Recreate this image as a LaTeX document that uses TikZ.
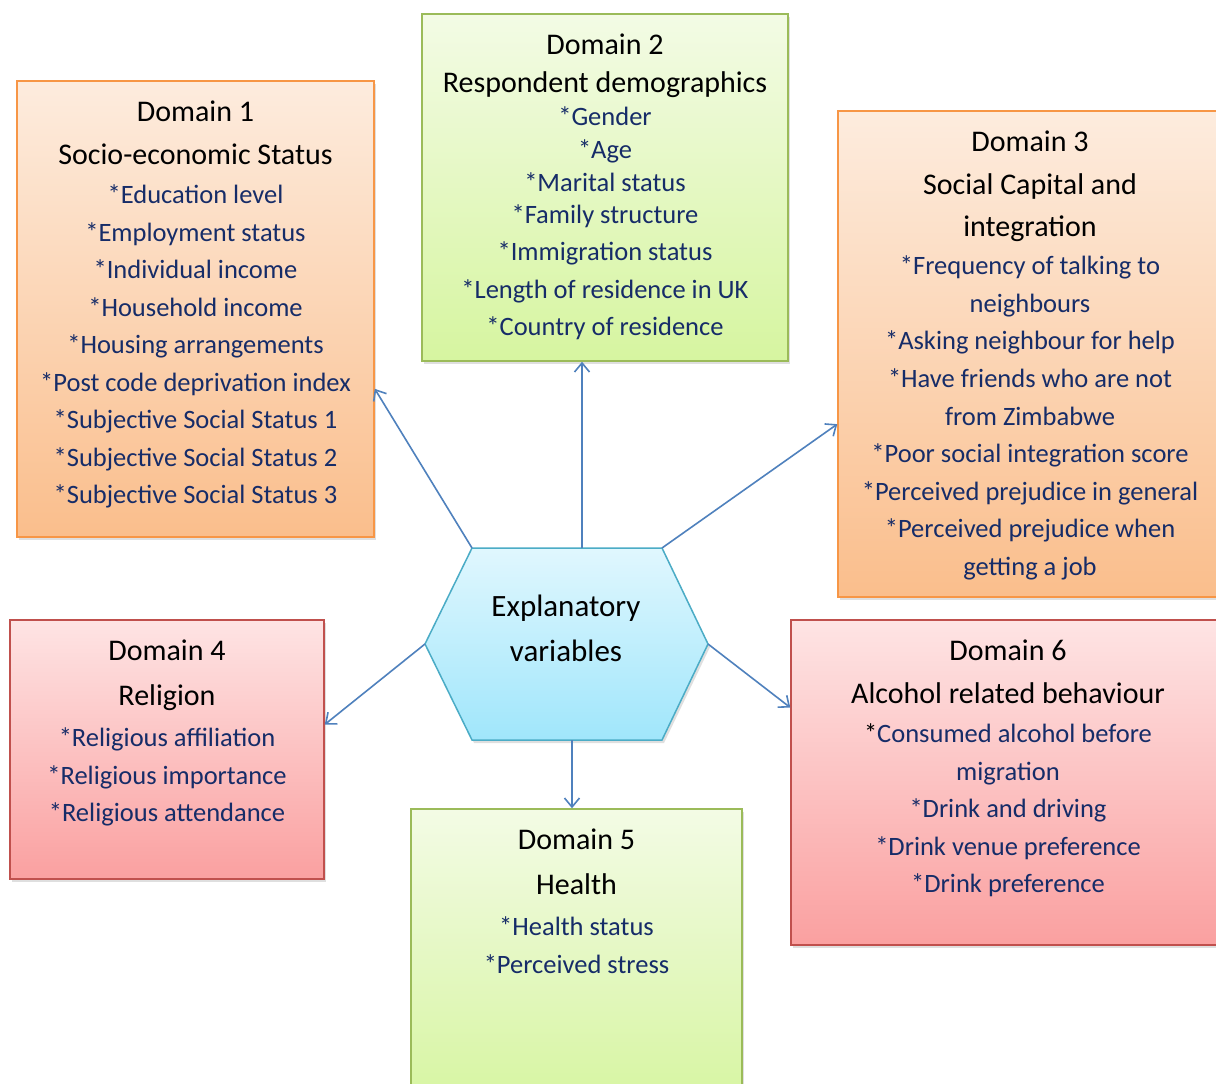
\documentclass[tikz,border=0pt]{standalone}
\usepackage{fontspec}
\setmainfont{Carlito}
\usetikzlibrary{arrows.meta,shadows}

\definecolor{itemblue}{RGB}{22,44,104}
\definecolor{arrowblue}{RGB}{79,129,189}
\definecolor{orangeline}{RGB}{247,150,70}
\definecolor{orangetop}{RGB}{253,236,222}
\definecolor{orangebot}{RGB}{250,190,140}
\definecolor{greenline}{RGB}{155,187,89}
\definecolor{greentop}{RGB}{243,251,229}
\definecolor{greenbot}{RGB}{214,245,160}
\definecolor{redline}{RGB}{192,80,77}
\definecolor{redtop}{RGB}{254,228,228}
\definecolor{redbot}{RGB}{250,160,160}
\definecolor{hexline}{RGB}{75,172,198}
\definecolor{hextop}{RGB}{224,247,254}
\definecolor{hexbot}{RGB}{160,230,251}

\tikzset{
  dombox/.style={draw, line width=1.5pt, inner sep=0pt,
    drop shadow={shadow xshift=2pt, shadow yshift=-3pt, opacity=.25}},
  obox/.style={dombox, draw=orangeline, top color=orangetop, bottom color=orangebot},
  gbox/.style={dombox, draw=greenline, top color=greentop, bottom color=greenbot},
  rbox/.style={dombox, draw=redline, top color=redtop, bottom color=redbot},
  ttl/.style={anchor=north, inner sep=0pt, align=center, font=\fontsize{30}{43}\selectfont},
  itm/.style={anchor=north, inner sep=0pt, align=center, text=itemblue, font=\fontsize{26.5}{37.5}\selectfont},
  arr/.style={draw=arrowblue, line width=1.6pt, -{Straight Barb[length=9pt,width=15pt]}},
}

\begin{document}
\begin{tikzpicture}[x=1pt,y=-1pt]
  \clip (0,0) rectangle (1216,1084);
  \fill[white] (0,0) rectangle (1216,1084);

  % domain boxes
  \node[obox, minimum width=357pt, minimum height=456pt] (d1) at (195.5,309) {};
  \node[gbox, minimum width=366pt, minimum height=347pt] (d2) at (605,187.5) {};
  \node[obox, minimum width=384pt, minimum height=486pt] (d3) at (1030,354) {};
  \node[rbox, minimum width=314pt, minimum height=259pt] (d4) at (167,749.5) {};
  \node[gbox, minimum width=331pt, minimum height=300pt] (d5) at (576.5,959) {};
  \node[rbox, minimum width=434pt, minimum height=325pt] (d6) at (1008,782.5) {};

  % hexagon
  \coordinate (hL) at (425,644);
  \coordinate (hTL) at (472,548);
  \coordinate (hTR) at (662,548);
  \coordinate (hR) at (708,644);
  \coordinate (hBR) at (662,740);
  \coordinate (hBL) at (472,740);
  \coordinate (hT) at (582,548);
  \coordinate (hB) at (572,740);
  \draw[draw=hexline, line width=1.5pt, top color=hextop, bottom color=hexbot,
    drop shadow={shadow xshift=2pt, shadow yshift=-3pt, opacity=.25}]
    (hL) -- (hTL) -- (hTR) -- (hR) -- (hBR) -- (hBL) -- cycle;
  \node[ttl, font=\fontsize{31}{45}\selectfont] (expl) at (566,584.5)
    {\strut Explanatory\\variables};

  % texts
  \node[ttl] (d1t) at (195.5,91.6) {\strut Domain 1\\Socio-economic Status};
  \node[itm] (d1i) at (195.5,177.25) {\strut *Education level\\*Employment status\\
    *Individual income\\*Household income\\*Housing arrangements\\
    *Post code deprivation index\\*Subjective Social Status 1\\
    *Subjective Social Status 2\\*Subjective Social Status 3};

  \node[ttl, font=\fontsize{30}{38}\selectfont] (d2t) at (605,28.1)
    {\strut Domain 2\\Respondent demographics};
  \node[itm, font=\fontsize{26.5}{32.7}\selectfont] (d2i) at (605,102.6)
    {\strut *Gender\\*Age\\*Marital status\\*Family structure\\[4.5pt]
    *Immigration status\\[4.8pt]*Length of residence in UK\\[4.5pt]
    *Country of residence};

  \node[ttl, font=\fontsize{30}{42.5}\selectfont] (d3t) at (1030,121.95)
    {\strut Domain 3\\Social Capital and\\integration};
  \node[itm, font=\fontsize{26.5}{37.6}\selectfont] (d3i) at (1030,248.2)
    {\strut *Frequency of talking to\\neighbours\\*Asking neighbour for help\\
    *Have friends who are not\\from Zimbabwe\\*Poor social integration score\\
    *Perceived prejudice in general\\*Perceived prejudice when\\getting a job};

  \node[ttl, font=\fontsize{30}{45}\selectfont] (d4t) at (167,629.2)
    {\strut Domain 4\\Religion};
  \node[itm] (d4i) at (167,720.25)
    {\strut *Religious affiliation\\*Religious importance\\*Religious attendance};

  \node[ttl, font=\fontsize{30}{45}\selectfont] (d5t) at (576.5,818.2)
    {\strut Domain 5\\Health};
  \node[itm, font=\fontsize{26.5}{38}\selectfont] (d5i) at (576.5,908.9)
    {\strut *Health status\\*Perceived stress};

  \node[ttl] (d6t) at (1008,630.6) {\strut Domain 6\\Alcohol related behaviour};
  \node[itm] (d6i) at (1008,716.25)
    {\strut {\color{black}*}Consumed alcohol before\\migration\\*Drink and driving\\
    *Drink venue preference\\*Drink preference};

  % connectors
  \draw[arr] (hTL) -- (d1.-24.4);
  \draw[arr] (hT) -- (hT |- d2.south);
  \draw[arr] (hTR) -- (d3.200.3);
  \draw[arr] (hL) -- (d4.9.9);
  \draw[arr] (hB) -- (hB |- d5.north);
  \draw[arr] (hR) -- (d6.161.2);
\end{tikzpicture}
\end{document}
